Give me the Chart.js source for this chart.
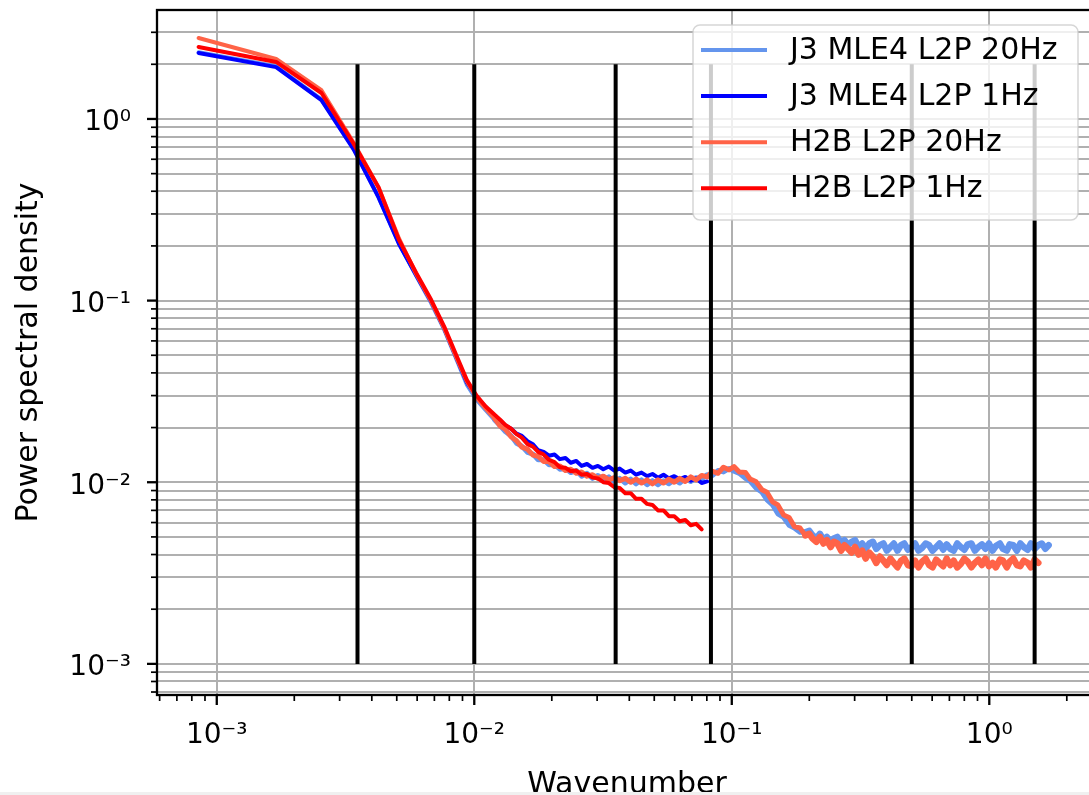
<!DOCTYPE html>
<html lang="en">
<head>
  <meta charset="UTF-8">
  <title>Power spectral density</title>
  <script src="https://cdn.jsdelivr.net/npm/chart.js@4.4.1/dist/chart.umd.min.js"></script>
  <style>
    * { margin: 0; padding: 0; }
    body { background: #fff; width: 1089px; height: 795px; overflow: hidden; }
    .frame { width: 1089px; height: 792px; overflow: hidden; }
    .strip { width: 1089px; height: 3px; background: #f0f0f0; }
    canvas { display: block; }
  </style>
</head>
<body>
  <div class="frame"><canvas id="psd" width="1110" height="815"></canvas></div>
  <div class="strip"></div>

  <script>
    // wavenumber grid (shared by all series)
    const wavenumber = [
      0.00085, 0.0017, 0.00255, 0.0034, 0.00425, 0.0051, 0.00595, 0.0068, 0.00765, 0.0085, 0.00935, 0.0102, 0.01105,
      0.0120, 0.0126, 0.0132, 0.0139, 0.0146, 0.0153, 0.0161, 0.0169, 0.0177, 0.0186,
      0.0195, 0.0205, 0.0215, 0.0226, 0.0237, 0.0249, 0.0261, 0.0274, 0.0288, 0.0302,
      0.0317, 0.0333, 0.0350, 0.0367, 0.0386, 0.0405, 0.0425, 0.0446, 0.0469, 0.0492,
      0.0517, 0.0543, 0.0570, 0.0598, 0.0628, 0.0660, 0.0693, 0.0727, 0.0764, 0.0802,
      0.0842, 0.0884, 0.0928, 0.0975, 0.102, 0.107, 0.113, 0.118, 0.124, 0.131,
      0.137, 0.144, 0.151, 0.159, 0.167, 0.175, 0.184, 0.193,
      0.200, 0.206, 0.213, 0.220, 0.227, 0.234, 0.242, 0.249, 0.257, 0.266,
      0.274, 0.283, 0.292, 0.301, 0.311, 0.321, 0.331, 0.342, 0.353, 0.364,
      0.376, 0.388, 0.400, 0.413, 0.426,
      0.440, 0.454, 0.468, 0.483, 0.499, 0.515, 0.531, 0.548, 0.566, 0.584,
      0.602, 0.622, 0.641, 0.662, 0.683, 0.705, 0.727, 0.751, 0.775, 0.800,
      0.825, 0.852, 0.879, 0.907, 0.936, 0.966, 0.997, 1.03, 1.06, 1.10,
      1.13, 1.17, 1.20, 1.24, 1.28, 1.32, 1.36, 1.41, 1.45, 1.50,
      1.55, 1.60, 1.65, 1.70
    ];

    const psdJ3_20Hz = [
      2.33, 1.95, 1.28, 0.69, 0.37, 0.207, 0.137, 0.097, 0.069, 0.048, 0.0345, 0.0285, 0.025,
      0.0220, 0.0205, 0.0190, 0.0180, 0.0164, 0.0158, 0.0146, 0.0143, 0.0133, 0.0133,
      0.0125, 0.0125, 0.0118, 0.0119, 0.0113, 0.0116, 0.0108, 0.0112, 0.0105, 0.0109,
      0.0103, 0.0107, 0.0101, 0.0105, 0.0099, 0.0104, 0.0098, 0.0103, 0.0097, 0.0102,
      0.0097, 0.0102, 0.0098, 0.0103, 0.0099, 0.0105, 0.0101, 0.0106, 0.0104, 0.0110,
      0.0109, 0.0116, 0.0114, 0.0119, 0.0115, 0.0112, 0.0105, 0.0101, 0.0093, 0.0088,
      0.0080, 0.0075, 0.0067, 0.0064, 0.0058, 0.0056, 0.0053, 0.0053,
      0.0054, 0.0051, 0.0049, 0.0052, 0.0048, 0.0050, 0.0047, 0.0049, 0.0050, 0.0046,
      0.0048, 0.0045, 0.0047, 0.0048, 0.0044, 0.0046, 0.0043, 0.0046, 0.0047, 0.0043,
      0.0045, 0.0046, 0.0042, 0.0044, 0.0046,
      0.0042, 0.0045, 0.0046, 0.00425, 0.0044, 0.0046, 0.0042, 0.00435, 0.0046, 0.0045,
      0.0042, 0.0044, 0.0046, 0.00425, 0.00455, 0.0043, 0.0042, 0.0046, 0.0044, 0.00425,
      0.00455, 0.0046, 0.0042, 0.0044, 0.00455, 0.0043, 0.0046, 0.0042, 0.00445, 0.0046,
      0.0043, 0.0042, 0.00455, 0.0045, 0.0042, 0.0046, 0.0044, 0.00425, 0.0046, 0.0043,
      0.0045, 0.0046, 0.0043, 0.0045
    ];

    const psdJ3_1Hz = [
      2.31, 1.93, 1.27, 0.68, 0.37, 0.205, 0.138, 0.099, 0.070, 0.049, 0.0355, 0.0296, 0.026,
      0.0230, 0.0219, 0.0205, 0.0197, 0.0185, 0.0180, 0.0168, 0.0162, 0.0150, 0.0147,
      0.0140, 0.0142, 0.0134, 0.0136, 0.0128, 0.0131, 0.0123, 0.0126, 0.0120, 0.0123,
      0.0118, 0.0122, 0.0116, 0.0119, 0.0113, 0.0116, 0.0110, 0.0113, 0.0108, 0.0111,
      0.0106, 0.0110, 0.0105, 0.0108, 0.0104, 0.0107, 0.0102, 0.0105, 0.0099, 0.0101
    ];

    const psdH2B_20Hz = [
      2.79, 2.14, 1.44, 0.74, 0.42, 0.22, 0.14, 0.099, 0.070, 0.049, 0.036, 0.0292, 0.0255,
      0.0224, 0.0204, 0.0196, 0.0178, 0.0169, 0.0156, 0.0152, 0.0141, 0.0139, 0.0130,
      0.0130, 0.0122, 0.0123, 0.0116, 0.0118, 0.0112, 0.0114, 0.0108, 0.0110, 0.0105,
      0.0108, 0.0103, 0.0106, 0.0102, 0.0105, 0.0100, 0.0104, 0.0099, 0.0103, 0.0098,
      0.0103, 0.0099, 0.0104, 0.0100, 0.0105, 0.0101, 0.0107, 0.0103, 0.0109, 0.0107,
      0.0115, 0.0112, 0.0121, 0.0117, 0.0122, 0.0114, 0.0113, 0.0104, 0.0101, 0.0091,
      0.0088, 0.0078, 0.0075, 0.0066, 0.0064, 0.0057, 0.0056, 0.0051,
      0.0052, 0.0049, 0.0047, 0.0050, 0.0046, 0.0048, 0.0044, 0.0047, 0.0046, 0.0042,
      0.0045, 0.0043, 0.0041, 0.0044, 0.0040, 0.0042, 0.0038, 0.0041, 0.0039, 0.0036,
      0.0039, 0.0037, 0.0035, 0.0038, 0.0036,
      0.0034, 0.0037, 0.0038, 0.0035, 0.00345, 0.0037, 0.0034, 0.00365, 0.0038, 0.0035,
      0.0034, 0.00375, 0.0036, 0.00345, 0.0038, 0.0035, 0.0037, 0.0034, 0.00355, 0.0038,
      0.00365, 0.0034, 0.0036, 0.00375, 0.0035, 0.0038, 0.00345, 0.0036, 0.0034, 0.00375,
      0.0037, 0.0034, 0.00365, 0.0038, 0.0035, 0.00345, 0.0037, 0.0036, 0.0034, 0.00375,
      0.0036
    ];

    const psdH2B_1Hz = [
      2.49, 2.06, 1.39, 0.73, 0.42, 0.216, 0.142, 0.101, 0.0717, 0.0503, 0.0366, 0.0300, 0.0262,
      0.0235, 0.0221, 0.0207, 0.0197, 0.0184, 0.0176, 0.0162, 0.0157, 0.0147, 0.0142,
      0.0133, 0.0129, 0.0121, 0.0120, 0.0115, 0.0116, 0.0110, 0.0111, 0.0106, 0.0105,
      0.0100, 0.0099, 0.0094, 0.0093, 0.0087, 0.0087, 0.0081, 0.0081, 0.0076, 0.0075,
      0.0070, 0.0070, 0.0065, 0.0065, 0.0061, 0.0062, 0.0058, 0.0059, 0.0055
    ];

    const seriesLabels = ['J3 MLE4 L2P 20Hz', 'J3 MLE4 L2P 1Hz', 'H2B L2P 20Hz', 'H2B L2P 1Hz'];
    const seriesColors = ['#6495ed', '#0000ff', '#ff6347', '#ff0000'];
    const series20Hz = [true, false, true, false];

    // vertical markers
    const cutoffs = [0.00352, 0.01, 0.0354, 0.083, 0.5, 1.5];
    const cutoffSpan = [0.001, 2];

    const xMajorTicks = [0.001, 0.01, 0.1, 1];
    const xTickLabels = ['10\u207B\u00B3', '10\u207B\u00B2', '10\u207B\u00B9', '10\u2070'];
    const yMajorTicks = [0.001, 0.01, 0.1, 1];
    const yTickLabels = ['10\u207B\u00B3', '10\u207B\u00B2', '10\u207B\u00B9', '10\u2070'];

    const xRange = [5.86e-4, 2.62];
    const yRange = [6.74e-4, 3.98];

    Chart.defaults.font.family = "'DejaVu Sans', sans-serif";
    Chart.defaults.color = '#000';

    function points(xs, ys) {
      return ys.map((y, i) => ({ x: xs[i], y: y }));
    }

    function logTicks(min, max) {
      const out = [];
      for (let e = Math.floor(Math.log10(min)); e <= Math.ceil(Math.log10(max)); e++) {
        for (let m = 1; m <= 9; m++) {
          const v = m * Math.pow(10, e);
          if (v >= min && v <= max) out.push({ value: v, major: m === 1 });
        }
      }
      return out;
    }

    function tickLabel(value, majors, labels) {
      const i = majors.findIndex(m => Math.abs(Math.log10(value / m)) < 1e-6);
      return i < 0 ? '' : labels[i];
    }

    // keep the plot box exactly where it is in the figure
    function noPad(s) {
      s.paddingTop = 0; s.paddingBottom = 0; s.paddingLeft = 0; s.paddingRight = 0;
    }

    // the 20 Hz spectra are a dense noisy band at high wavenumber
    function bandWidth(ctx) {
      const k = ctx.p0.parsed.x;
      return k >= 0.19 ? 6.5 : (k >= 0.0115 ? 5 : 4);
    }

    const series = [psdJ3_20Hz, psdJ3_1Hz, psdH2B_20Hz, psdH2B_1Hz];
    const seriesSets = series.map((ys, i) => ({
      label: seriesLabels[i],
      data: points(wavenumber, ys),
      borderColor: seriesColors[i],
      borderWidth: 4,
      borderJoinStyle: 'round',
      borderCapStyle: 'round',
      segment: series20Hz[i] ? { borderWidth: bandWidth } : {},
      pointRadius: 0,
      order: 4 - i,
      isSeries: true
    }));

    const cutoffSets = cutoffs.map(c => ({
      label: '',
      data: [{ x: c, y: cutoffSpan[0] }, { x: c, y: cutoffSpan[1] }],
      borderColor: '#000',
      borderWidth: 4,
      pointRadius: 0,
      order: 0
    }));

    // legend box inside the axes, like matplotlib's
    const legendBox = {
      id: 'legendBox',
      afterDatasetsDraw(chart) {
        const { ctx, chartArea: a } = chart;
        const items = chart.data.datasets.filter(d => d.isSeries);
        const w = 385, h = 195;
        const x0 = a.right - 19 - w, y0 = a.top + 15;
        ctx.save();
        ctx.beginPath();
        ctx.roundRect(x0, y0, w, h, 7);
        ctx.fillStyle = 'rgba(255,255,255,0.8)';
        ctx.fill();
        ctx.lineWidth = 1.5;
        ctx.strokeStyle = 'rgba(204,204,204,0.8)';
        ctx.stroke();
        ctx.font = "30px 'DejaVu Sans'";
        ctx.textBaseline = 'middle';
        ctx.fillStyle = '#000';
        items.forEach((d, i) => {
          const y = y0 + 25 + i * 46.1;
          ctx.beginPath();
          ctx.moveTo(x0 + 8, y);
          ctx.lineTo(x0 + 74, y);
          ctx.lineWidth = 4;
          ctx.strokeStyle = d.borderColor;
          ctx.stroke();
          ctx.fillText(d.label, x0 + 97, y + 1);
        });
        ctx.restore();
      }
    };

    // spines and tick marks (major longer than minor)
    const frameTicks = {
      id: 'frameTicks',
      afterDraw(chart) {
        const { ctx, chartArea: a } = chart;
        const xs = chart.scales.x, ys = chart.scales.y;
        ctx.save();
        ctx.strokeStyle = '#000';
        xs.ticks.forEach(t => {
          const p = xs.getPixelForValue(t.value);
          ctx.lineWidth = t.major ? 2.3 : 1.7;
          ctx.beginPath();
          ctx.moveTo(p, a.bottom);
          ctx.lineTo(p, a.bottom + (t.major ? 10 : 6));
          ctx.stroke();
        });
        ys.ticks.forEach(t => {
          const p = ys.getPixelForValue(t.value);
          ctx.lineWidth = t.major ? 2.3 : 1.7;
          ctx.beginPath();
          ctx.moveTo(a.left, p);
          ctx.lineTo(a.left - (t.major ? 10 : 6), p);
          ctx.stroke();
        });
        ctx.lineWidth = 2.3;
        ctx.strokeRect(a.left, a.top, a.right - a.left, a.bottom - a.top);
        ctx.restore();
      }
    };

    new Chart(document.getElementById('psd').getContext('2d'), {
      type: 'line',
      data: { datasets: [...cutoffSets, ...seriesSets] },
      options: {
        responsive: false,
        animation: false,
        layout: { padding: { top: 10, right: 13, left: 0, bottom: 0 } },
        plugins: {
          legend: { display: false },
          tooltip: { enabled: false }
        },
        scales: {
          x: {
            type: 'logarithmic',
            min: xRange[0],
            max: xRange[1],
            afterBuildTicks: s => { s.ticks = logTicks(xRange[0], xRange[1]); },
            afterFit: s => { s.height = 120; noPad(s); },
            ticks: {
              autoSkip: false,
              maxRotation: 0,
              padding: 24,
              font: { size: 28 },
              callback: v => tickLabel(v, xMajorTicks, xTickLabels)
            },
            grid: {
              drawTicks: false,
              lineWidth: 2,
              color: c => (c.tick && c.tick.major) ? '#b0b0b0' : 'rgba(0,0,0,0)'
            },
            border: { display: false },
            title: { display: true, text: 'Wavenumber', font: { size: 30 }, padding: { top: 0, bottom: 12 } }
          },
          y: {
            type: 'logarithmic',
            min: yRange[0],
            max: yRange[1],
            afterBuildTicks: s => { s.ticks = logTicks(yRange[0], yRange[1]); },
            afterFit: s => { s.width = 157; noPad(s); },
            ticks: {
              autoSkip: false,
              padding: 26,
              labelOffset: 4,
              font: { size: 28 },
              callback: v => tickLabel(v, yMajorTicks, yTickLabels)
            },
            grid: { drawTicks: false, lineWidth: 2, color: '#b0b0b0' },
            border: { display: false },
            title: { display: true, text: 'Power spectral density', font: { size: 30 }, padding: { top: 11, bottom: 0 } }
          }
        }
      },
      plugins: [legendBox, frameTicks]
    });
  </script>
</body>
</html>
